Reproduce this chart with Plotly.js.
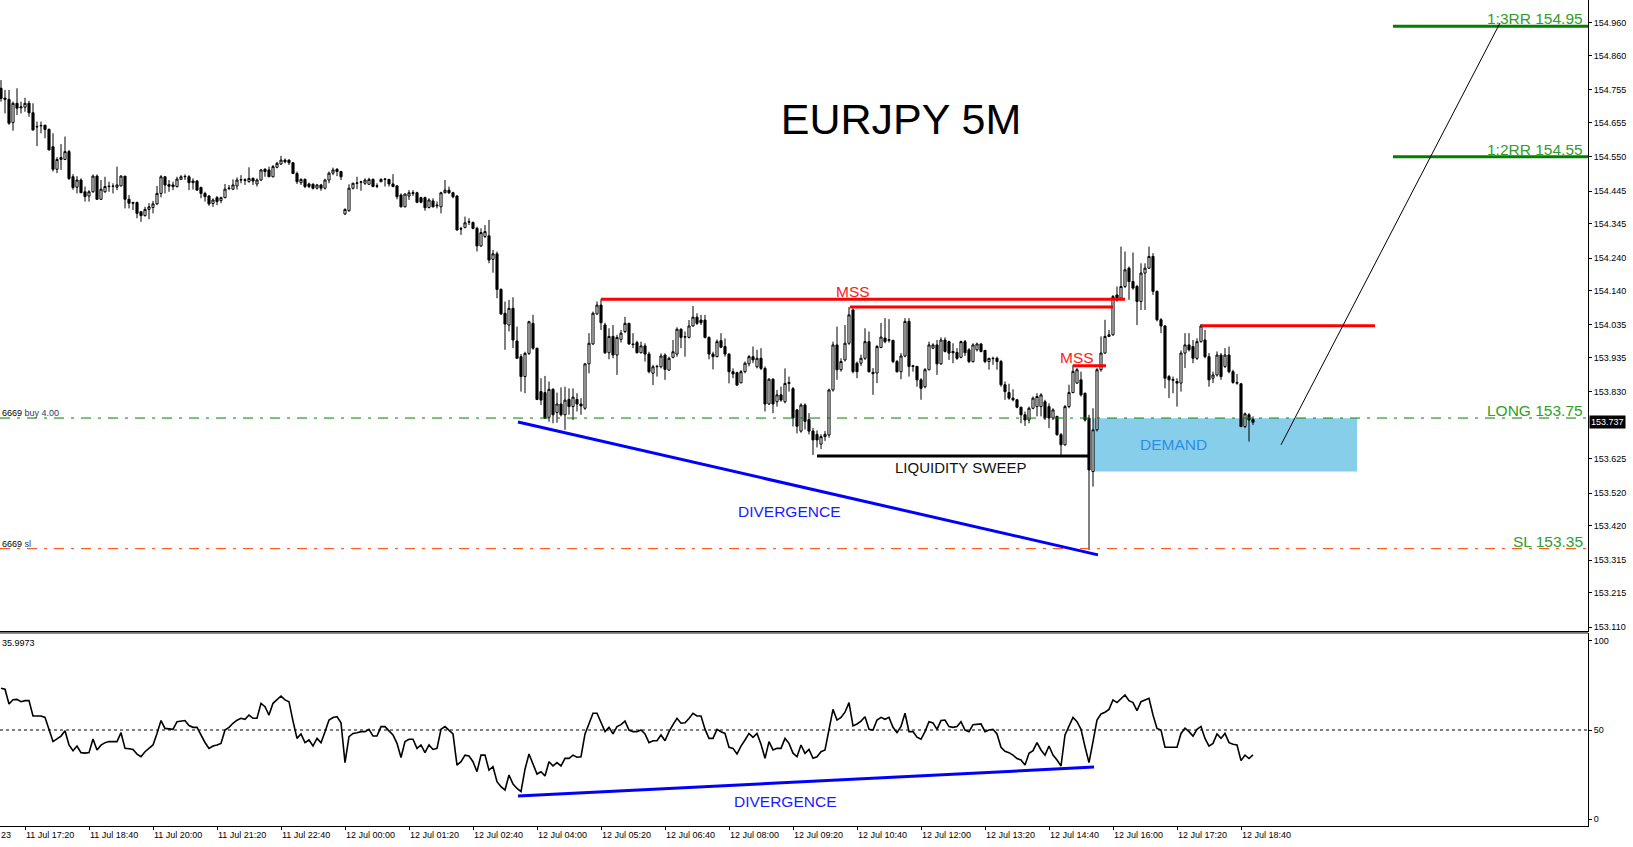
<!DOCTYPE html>
<html><head><meta charset="utf-8">
<script src="https://cdn.plot.ly/plotly-3.0.1.min.js"></script>
<style>html,body{margin:0;padding:0;background:#fff;}#chart{width:1633px;height:847px;}</style>
</head><body><div id="chart"></div>
<script>
// EURJPY 5M candles, 11 Jul 16:50 -> 12 Jul 18:55 (one value per bar)
const openP = [
154.760,154.730,154.726,154.655,154.714,154.700,154.702,154.714,154.685,154.643,
154.645,154.647,154.634,154.581,154.512,154.542,154.542,154.566,154.489,154.457,
154.479,154.443,154.430,154.443,154.491,154.420,154.443,154.459,154.460,154.457,
154.461,154.491,154.420,154.410,154.410,154.382,154.370,154.389,154.395,154.406,
154.438,154.489,154.465,154.459,154.459,154.481,154.489,154.489,154.476,154.476,
154.456,154.438,154.430,154.407,154.425,154.416,154.425,154.453,154.451,154.461,
154.479,154.480,154.474,154.484,154.467,154.479,154.512,154.510,154.489,154.518,
154.528,154.540,154.540,154.532,154.499,154.471,154.481,154.467,154.466,154.454,
154.464,154.454,154.479,154.500,154.512,154.505,154.375,154.385,154.454,154.469,
154.472,154.469,154.466,154.481,154.460,154.474,154.481,154.481,154.467,154.461,
154.433,154.397,154.430,154.438,154.440,154.425,154.425,154.395,154.415,154.400,
154.397,154.440,154.448,154.440,154.430,154.330,154.334,154.350,154.349,154.331,
154.277,154.306,154.308,154.236,154.253,154.144,154.071,154.035,154.086,153.986,
153.938,153.877,153.948,154.040,153.964,153.831,153.828,153.752,153.838,153.767,
153.793,153.760,153.807,153.785,153.807,153.793,153.780,153.916,153.977,154.069,
154.096,154.035,153.950,154.000,153.943,153.991,154.015,154.040,153.977,153.981,
153.950,153.971,153.946,153.887,153.907,153.907,153.943,153.897,153.936,153.946,
154.022,153.998,153.997,154.032,154.059,154.050,154.050,153.997,153.946,153.938,
153.987,153.969,153.946,153.892,153.889,153.858,153.892,153.916,153.938,153.907,
153.933,153.902,153.793,153.869,153.800,153.821,153.800,153.856,153.840,153.775,
153.710,153.790,153.745,153.710,153.700,153.670,153.693,153.698,153.836,153.974,
153.898,153.928,153.979,154.081,153.918,153.918,153.933,153.984,153.890,153.888,
153.966,153.995,153.990,153.988,153.923,153.892,153.940,154.046,153.910,153.908,
153.867,153.846,153.898,153.964,153.974,153.916,153.989,153.984,153.954,153.951,
153.936,153.984,153.959,153.923,153.959,153.977,153.957,153.923,153.933,153.933,
153.923,153.852,153.828,153.811,153.806,153.783,153.760,153.744,153.780,153.785,
153.785,153.800,153.785,153.750,153.755,153.699,153.668,153.785,153.828,153.857,
153.867,153.826,153.750,153.586,153.714,153.898,153.949,154.000,154.005,154.127,
154.117,154.153,154.209,154.168,154.153,154.107,154.194,154.209,154.245,154.138,
154.051,154.032,153.877,153.868,153.862,153.857,153.949,153.974,153.969,153.933,
153.984,153.989,153.938,153.872,153.882,153.943,153.908,153.943,153.892,153.859,
153.855,153.724,153.760,153.746];
const highP = [
154.785,154.755,154.755,154.719,154.760,154.719,154.731,154.722,154.714,154.658,
154.658,154.648,154.637,154.622,154.549,154.589,154.612,154.571,154.497,154.491,
154.484,154.459,154.448,154.496,154.496,154.479,154.489,154.474,154.469,154.520,
154.494,154.491,154.433,154.413,154.413,154.382,154.397,154.408,154.415,154.461,
154.494,154.491,154.479,154.474,154.489,154.494,154.496,154.494,154.484,154.479,
154.459,154.443,154.433,154.423,154.430,154.428,154.467,154.464,154.481,154.487,
154.494,154.484,154.518,154.487,154.484,154.512,154.515,154.520,154.525,154.535,
154.553,154.545,154.542,154.534,154.505,154.484,154.484,154.471,154.469,154.467,
154.467,154.483,154.505,154.517,154.515,154.507,154.392,154.466,154.471,154.489,
154.477,154.484,154.486,154.484,154.469,154.484,154.484,154.481,154.497,154.464,
154.438,154.438,154.448,154.448,154.443,154.428,154.428,154.423,154.423,154.413,
154.443,154.479,154.459,154.443,154.433,154.336,154.367,154.362,154.352,154.336,
154.331,154.341,154.357,154.265,154.260,154.147,154.107,154.112,154.120,154.030,
153.946,153.953,154.048,154.066,153.964,153.872,153.879,153.862,153.841,153.828,
153.844,153.846,153.841,153.841,153.826,153.811,153.918,154.010,154.076,154.107,
154.114,154.042,154.025,154.035,154.005,154.020,154.060,154.042,154.010,153.987,
153.984,153.979,153.953,153.913,153.913,153.948,153.948,153.938,153.989,154.028,
154.025,154.015,154.050,154.093,154.071,154.066,154.066,154.000,153.953,153.991,
154.010,153.994,153.948,153.902,153.892,153.897,153.923,153.943,153.969,153.959,
153.964,153.908,153.872,153.872,153.836,153.846,153.902,153.877,153.845,153.778,
153.795,153.795,153.765,153.720,153.712,153.700,153.710,153.840,153.984,154.030,
153.933,154.035,154.090,154.086,153.923,153.944,154.025,154.015,153.903,153.974,
154.041,154.056,154.053,153.989,153.928,153.949,154.056,154.056,153.913,153.910,
153.872,153.903,153.984,153.979,153.989,153.997,153.997,153.987,153.979,153.964,
153.987,153.989,153.964,153.979,153.981,153.979,153.959,153.928,153.938,153.938,
153.928,153.862,153.855,153.838,153.808,153.785,153.770,153.785,153.816,153.826,
153.826,153.806,153.795,153.780,153.757,153.704,153.790,153.852,153.913,153.903,
153.892,153.828,153.760,153.780,153.903,154.000,154.051,154.020,154.127,154.153,
154.275,154.260,154.214,154.257,154.158,154.224,154.224,154.275,154.255,154.141,
154.056,154.035,153.882,153.877,153.872,153.957,154.010,154.010,153.989,153.994,
154.038,154.020,153.949,153.892,153.954,153.949,153.964,153.969,153.898,153.885,
153.857,153.767,153.765,153.755];
const lowP = [
154.719,154.683,154.648,154.630,154.678,154.683,154.688,154.673,154.632,154.583,
154.622,154.607,154.571,154.505,154.500,154.510,154.540,154.479,154.449,154.438,
154.440,154.413,154.413,154.440,154.418,154.418,154.440,154.443,154.438,154.448,
154.459,154.392,154.392,154.387,154.362,154.351,154.367,154.359,154.377,154.402,
154.426,154.438,154.443,154.448,154.456,154.479,154.479,154.448,154.450,154.448,
154.423,154.413,154.400,154.397,154.402,154.408,154.423,154.448,154.448,154.450,
154.469,154.464,154.471,154.464,154.459,154.476,154.489,154.489,154.487,154.515,
154.525,154.530,154.525,154.499,154.467,154.464,154.454,154.454,154.450,154.450,
154.446,154.450,154.469,154.494,154.491,154.479,154.372,154.382,154.450,154.451,
154.446,154.464,154.464,154.457,154.454,154.472,154.459,154.459,154.457,154.420,
154.395,154.395,154.418,154.430,154.408,154.408,154.385,154.392,154.395,154.392,
154.377,154.438,154.436,154.423,154.324,154.311,154.331,154.341,154.328,154.260,
154.275,154.301,154.224,154.195,154.117,154.066,153.959,154.015,153.964,153.933,
153.831,153.826,153.943,153.959,153.805,153.790,153.749,153.739,153.734,153.736,
153.755,153.714,153.760,153.744,153.770,153.760,153.775,153.887,153.974,154.066,
154.020,153.946,153.930,153.933,153.882,153.981,154.010,153.974,153.964,153.948,
153.948,153.923,153.887,153.851,153.877,153.902,153.867,153.895,153.933,153.938,
153.964,153.938,153.994,154.030,154.035,154.035,153.994,153.930,153.899,153.936,
153.964,153.938,153.856,153.872,153.848,153.856,153.887,153.908,153.918,153.902,
153.897,153.770,153.790,153.765,153.785,153.800,153.795,153.831,153.724,153.703,
153.705,153.715,153.700,153.637,153.660,153.655,153.680,153.690,153.831,153.867,
153.892,153.923,153.974,153.887,153.872,153.910,153.928,153.889,153.821,153.857,
153.964,153.979,153.981,153.918,153.889,153.869,153.936,153.877,153.892,153.846,
153.806,153.841,153.896,153.961,153.882,153.913,153.951,153.928,153.918,153.928,
153.933,153.940,153.918,153.920,153.954,153.951,153.918,153.898,153.913,153.898,
153.846,153.806,153.806,153.801,153.780,153.734,153.726,153.734,153.777,153.755,
153.755,153.744,153.719,153.744,153.696,153.637,153.665,153.780,153.826,153.855,
153.816,153.739,153.346,153.540,153.709,153.892,153.947,153.998,154.002,154.107,
154.112,154.148,154.112,154.143,154.035,154.081,154.081,154.206,154.127,154.046,
154.010,153.841,153.811,153.826,153.785,153.831,153.903,153.954,153.918,153.928,
153.981,153.933,153.846,153.857,153.877,153.867,153.903,153.887,153.855,153.852,
153.722,153.719,153.678,153.729];
const closeP = [
154.729,154.726,154.653,154.714,154.699,154.703,154.714,154.685,154.632,154.642,
154.646,154.634,154.571,154.512,154.542,154.548,154.566,154.484,154.456,154.479,
154.440,154.428,154.443,154.491,154.420,154.451,154.459,154.460,154.460,154.464,
154.491,154.420,154.408,154.408,154.377,154.370,154.389,154.397,154.406,154.438,
154.489,154.464,154.460,154.464,154.482,154.489,154.490,154.471,154.471,154.448,
154.438,154.428,154.406,154.418,154.413,154.425,154.451,154.454,154.464,154.479,
154.480,154.478,154.484,154.476,154.479,154.510,154.505,154.489,154.520,154.530,
154.540,154.535,154.532,154.499,154.474,154.481,154.459,154.459,154.454,154.464,
154.454,154.479,154.500,154.510,154.505,154.489,154.389,154.454,154.469,154.470,
154.473,154.479,154.481,154.459,154.461,154.481,154.482,154.467,154.459,154.428,
154.397,154.436,154.440,154.440,154.411,154.411,154.394,154.418,154.397,154.402,
154.440,154.448,154.440,154.428,154.326,154.329,154.348,154.351,154.331,154.277,
154.318,154.321,154.234,154.253,154.144,154.069,154.038,154.086,153.989,153.933,
153.877,153.948,154.045,153.964,153.807,153.805,153.749,153.838,153.760,153.793,
153.760,153.805,153.785,153.814,153.793,153.787,153.916,153.979,154.071,154.096,
154.042,153.950,154.000,153.943,153.997,154.010,154.040,153.977,153.975,153.950,
153.971,153.946,153.892,153.907,153.908,153.940,153.899,153.933,153.953,154.022,
153.997,153.999,154.032,154.059,154.040,154.042,153.997,153.946,153.938,153.984,
153.967,153.946,153.892,153.885,153.851,153.892,153.918,153.938,153.928,153.933,
153.902,153.793,153.869,153.793,153.821,153.805,153.856,153.859,153.750,153.725,
153.790,153.740,153.710,153.683,153.683,153.693,153.700,153.836,153.974,153.898,
153.923,153.979,154.066,153.892,153.892,153.933,153.984,153.892,153.886,153.969,
153.998,153.984,153.988,153.923,153.892,153.940,154.046,153.908,153.908,153.867,
153.841,153.898,153.974,153.974,153.916,153.989,153.954,153.949,153.950,153.933,
153.984,153.950,153.923,153.974,153.977,153.954,153.923,153.933,153.932,153.923,
153.852,153.831,153.811,153.806,153.783,153.760,153.744,153.780,153.811,153.816,
153.821,153.750,153.750,153.775,153.699,153.668,153.785,153.828,153.893,153.898,
153.821,153.744,153.591,153.714,153.898,153.949,154.000,154.005,154.122,154.112,
154.153,154.204,154.168,154.148,154.107,154.194,154.209,154.245,154.138,154.051,
154.032,153.872,153.867,153.866,153.857,153.949,153.974,153.959,153.933,153.984,
154.032,153.938,153.867,153.882,153.943,153.877,153.943,153.892,153.859,153.857,
153.724,153.763,153.744,153.737];
// RSI values, one per bar
const rsiValues = [
73.4,72.9,64.6,67.0,67.2,65.9,66.5,66.5,57.9,57.9,
57.9,57.1,50.0,43.5,45.0,46.6,49.6,41.6,38.4,41.0,
37.3,37.0,37.3,44.9,38.8,41.5,42.9,43.5,43.5,43.5,
48.5,39.7,39.5,39.1,36.5,35.0,37.8,39.5,41.6,48.0,
55.3,50.9,50.5,50.4,54.7,55.0,55.3,52.5,51.5,51.5,
47.2,43.0,39.7,41.0,41.6,42.5,50.0,51.5,53.8,55.5,
56.6,56.0,58.4,56.6,56.6,65.0,63.1,58.4,65.0,67.0,
69.1,66.9,65.9,55.0,45.3,47.8,42.9,44.4,41.0,45.3,
42.9,49.0,55.6,57.0,57.5,54.1,31.7,46.3,48.1,48.5,
49.1,49.1,50.4,46.6,46.6,51.9,51.9,49.5,47.2,42.5,
34.6,43.5,44.8,44.8,39.7,41.6,37.3,41.6,39.1,39.7,
50.4,51.9,50.0,47.8,30.3,32.2,35.9,35.4,32.2,26.6,
35.9,35.9,27.5,29.4,21.0,18.2,16.3,24.7,19.7,17.2,
15.4,28.0,36.5,31.0,25.3,26.6,24.2,32.2,29.8,31.7,
29.8,34.1,34.1,35.9,34.7,35.0,47.8,53.5,59.4,59.4,
54.0,49.1,51.5,47.8,51.9,53.0,55.0,50.0,49.1,49.1,
50.0,47.8,42.9,44.0,44.0,47.2,44.0,49.1,53.0,56.6,
53.8,54.1,56.5,59.4,57.9,57.9,50.5,45.3,45.3,50.4,
49.0,48.1,40.3,39.7,36.5,41.0,44.4,48.1,45.9,48.1,
42.0,34.1,43.5,38.8,39.7,39.7,45.3,42.5,37.0,35.0,
41.6,36.9,39.1,34.1,35.0,37.8,38.8,50.0,61.6,55.6,
57.1,60.0,65.4,52.3,53.4,55.0,57.5,50.4,50.0,55.6,
57.1,56.0,57.1,51.5,48.5,52.0,59.4,49.1,49.1,46.0,
44.8,49.1,54.7,54.0,50.4,55.3,55.6,51.9,51.5,52.0,
54.7,50.0,49.1,53.0,53.4,53.4,49.1,50.0,50.4,47.8,
40.3,38.0,37.3,35.9,34.0,33.2,30.3,36.9,38.4,42.9,
38.8,35.9,41.0,35.9,33.2,29.8,47.2,51.9,57.1,54.7,
50.4,40.6,31.7,43.5,55.6,59.0,60.0,61.6,66.9,65.4,
67.8,69.7,66.5,65.4,60.9,65.9,66.9,67.8,58.4,50.9,
50.0,40.3,40.3,40.3,40.3,48.1,51.0,49.1,46.6,50.4,
52.0,45.3,41.0,42.5,47.8,45.3,48.1,42.9,42.0,41.6,
32.8,35.9,34.0,36.0];
const timeTickBars = [6,22,38,54,70,86,102,118,134,150,166,182,198,214,230,246,262,278,294,310];
const timeTickLabels = ['11 Jul 17:20','11 Jul 18:40','11 Jul 20:00','11 Jul 21:20','11 Jul 22:40',
 '12 Jul 00:00','12 Jul 01:20','12 Jul 02:40','12 Jul 04:00','12 Jul 05:20','12 Jul 06:40',
 '12 Jul 08:00','12 Jul 09:20','12 Jul 10:40','12 Jul 12:00','12 Jul 13:20','12 Jul 14:40',
 '12 Jul 16:00','12 Jul 17:20','12 Jul 18:40'];
const priceTickVals = [153.110,153.215,153.315,153.420,153.520,153.625,153.830,153.935,154.035,
 154.140,154.240,154.345,154.445,154.550,154.655,154.755,154.860,154.960];
const priceTickLabels = ['153.110','153.215','153.315','153.420','153.520','153.625','153.830','153.935','154.035',
 '154.140','154.240','154.345','154.445','154.550','154.655','154.755','154.860','154.960'];
const rsiTickVals = [0, 50, 100];
const rsiTickLabels = ['0', '50', '100'];
const levelPrices = [154.95, 154.55, 153.75, 153.35];
const levelLabels = ['1:3RR 154.95', '1:2RR 154.55', 'LONG 153.75', 'SL 153.35'];
const currentPrice = 153.737;
const currentRsiText = '35.9973';
const firstDateTail = '23';

const barIndex = openP.map((_, i) => i);
const XR = [-0.25, 396.75];
const GREEN_TXT = '#2f9e2a';
const FONT = 'Liberation Sans, Arial, sans-serif';

const traces = [
 {type:'candlestick', x:barIndex, open:openP, high:highP, low:lowP, close:closeP,
  xaxis:'x', yaxis:'y', whiskerwidth:0, hoverinfo:'skip', showlegend:false,
  increasing:{line:{color:'#000', width:1}, fillcolor:'#ffffff'},
  decreasing:{line:{color:'#000', width:1}, fillcolor:'#000000'}},
 {type:'scatter', mode:'lines', x:barIndex, y:rsiValues, xaxis:'x2', yaxis:'y2',
  line:{color:'#000', width:1.6}, hoverinfo:'skip', showlegend:false}
];

const shapes = [
 {type:'line', xref:'paper', yref:'paper', x0:0, x1:1, y0:0.2337, y1:0.2337, line:{color:'#000', width:1}},
 // RR targets
 {type:'line', xref:'x', yref:'y', x0:348, x1:XR[1], y0:levelPrices[0], y1:levelPrices[0], line:{color:'#008000', width:3}},
 {type:'line', xref:'x', yref:'y', x0:348, x1:XR[1], y0:levelPrices[1], y1:levelPrices[1], line:{color:'#008000', width:3}},
 // entry and stop
 {type:'line', xref:'x', yref:'y', x0:XR[0], x1:XR[1], y0:levelPrices[2], y1:levelPrices[2], line:{color:'#008000', width:1, dash:'10px,7px,3px,7px'}},
 {type:'line', xref:'x', yref:'y', x0:XR[0], x1:XR[1], y0:levelPrices[3], y1:levelPrices[3], line:{color:'#ff4500', width:1, dash:'10px,7px,3px,7px'}},
 // demand zone
 {type:'rect', xref:'x', yref:'y', x0:273, x1:339, y0:153.586, y1:153.749, fillcolor:'#87ceeb', line:{width:0}, layer:'below'},
 // MSS lines
 {type:'line', xref:'x', yref:'y', x0:150, x1:281, y0:154.114, y1:154.114, line:{color:'#ff0000', width:3}},
 {type:'line', xref:'x', yref:'y', x0:212.25, x1:278, y0:154.090, y1:154.090, line:{color:'#ff0000', width:3}},
 {type:'line', xref:'x', yref:'y', x0:268, x1:276.25, y0:153.910, y1:153.910, line:{color:'#ff0000', width:3}},
 {type:'line', xref:'x', yref:'y', x0:300, x1:343.5, y0:154.033, y1:154.033, line:{color:'#ff0000', width:3}},
 // liquidity sweep
 {type:'line', xref:'x', yref:'y', x0:204, x1:271.75, y0:153.634, y1:153.634, line:{color:'#000', width:3}},
 // price divergence
 {type:'line', xref:'x', yref:'y', x0:129.25, x1:274.25, y0:153.738, y1:153.331, line:{color:'#0000ff', width:3}},
 // projection
 {type:'line', xref:'x', yref:'y', x0:320, x1:374.75, y0:153.668, y1:154.960, line:{color:'#000', width:1}},
 // RSI 50 and divergence
 {type:'line', xref:'x2', yref:'y2', x0:XR[0], x1:XR[1], y0:50, y1:50, line:{color:'#000', width:1, dash:'3px,3px'}},
 {type:'line', xref:'x2', yref:'y2', x0:129.25, x1:273.25, y0:12.9, y1:29.2, line:{color:'#0000ff', width:3}}
];

const ann = [];
function txt(o){ ann.push(Object.assign({showarrow:false, font:{family:FONT, size:15.5, color:'#000'}}, o)); }
txt({xref:'x', yref:'y', x:213.1, y:154.139, text:'MSS', font:{family:FONT, size:15.5, color:'#ff1a1a'}});
txt({xref:'x', yref:'y', x:269, y:153.936, text:'MSS', font:{family:FONT, size:15.5, color:'#ff1a1a'}});
txt({xref:'x', yref:'y', x:239.75, y:153.600, text:'LIQUIDITY SWEEP', font:{family:FONT, size:15, color:'#111'}});
txt({xref:'x', yref:'y', x:197, y:153.465, text:'DIVERGENCE', font:{family:FONT, size:15.5, color:'#1a1aff'}});
txt({xref:'x', yref:'y', x:293, y:153.668, text:'DEMAND', font:{family:FONT, size:15.5, color:'#2b8fe8'}});
txt({xref:'x2', yref:'y2', x:196, y:10.1, text:'DIVERGENCE', font:{family:FONT, size:15.5, color:'#1a1aff'}});
levelLabels.forEach((t, k) => txt({xref:'paper', yref:'y', x:1, xanchor:'right', xshift:-3, y:levelPrices[k], yanchor:'bottom', yshift:-3, text:t, font:{family:FONT, size:15.5, color:GREEN_TXT}}));
txt({xref:'paper', yref:'y', x:0, xanchor:'left', y:levelPrices[2], yanchor:'bottom', yshift:-2, text:'6669 <span style="color:#1f3a6e">buy 4.00</span>', font:{family:FONT, size:9, color:'#000'}});
txt({xref:'paper', yref:'y', x:0, xanchor:'left', y:levelPrices[3], yanchor:'bottom', yshift:-2, text:'6669 <span style="color:#1f3a6e">sl</span>', font:{family:FONT, size:9, color:'#000'}});
txt({xref:'paper', yref:'paper', x:0, xanchor:'left', y:0.2215, yanchor:'middle', text:currentRsiText, font:{family:FONT, size:9, color:'#000'}});
txt({xref:'paper', yref:'y', x:1, xanchor:'left', xshift:1, y:currentPrice, yanchor:'middle', text:String(currentPrice), bgcolor:'#000', borderpad:1, font:{family:FONT, size:9, color:'#fff'}});
txt({xref:'paper', yref:'paper', x:0, xanchor:'left', xshift:-1, y:-0.011, yanchor:'middle', text:firstDateTail, font:{family:FONT, size:9, color:'#000'}});

const layout = {
 width:1633, height:847, margin:{l:0, r:45, t:0, b:21, pad:0},
 paper_bgcolor:'#fff', plot_bgcolor:'#fff', showlegend:false, boxgap:0.25,
 font:{family:FONT, color:'#000'},
 title:{text:'EURJPY 5M', x:901/1633, y:1-119/847, xref:'container', yref:'container', xanchor:'center', yanchor:'middle', font:{family:FONT, size:43, color:'#000'}},
 xaxis:{domain:[0,1], anchor:'y', range:XR, showgrid:false, zeroline:false, showticklabels:false, ticks:'', showline:true, linecolor:'#000', linewidth:1, rangeslider:{visible:false}, fixedrange:true},
 yaxis:{domain:[0.2361,1], anchor:'x', side:'right', range:[153.0978,155.0304], tickmode:'array', tickvals:priceTickVals, ticktext:priceTickLabels, ticks:'outside', ticklen:3, tickcolor:'#000', showline:true, linecolor:'#000', linewidth:1, showgrid:false, zeroline:false, tickfont:{family:FONT, size:9, color:'#000'}, fixedrange:true},
 xaxis2:{domain:[0,1], anchor:'y2', range:XR, tickmode:'array', tickvals:timeTickBars, ticktext:timeTickLabels, ticks:'outside', ticklen:3, tickcolor:'#000', ticklabelposition:'outside right', showline:true, linecolor:'#000', linewidth:1, showgrid:false, zeroline:false, tickfont:{family:FONT, size:9, color:'#000'}, fixedrange:true},
 yaxis2:{domain:[0,0.2337], anchor:'x2', side:'right', range:[-3.9,104.5], tickmode:'array', tickvals:rsiTickVals, ticktext:rsiTickLabels, ticks:'outside', ticklen:3, tickcolor:'#000', showline:true, linecolor:'#000', linewidth:1, showgrid:false, zeroline:false, tickfont:{family:FONT, size:9, color:'#000'}, fixedrange:true},
 shapes:shapes, annotations:ann
};
Plotly.newPlot('chart', traces, layout, {displayModeBar:false, staticPlot:true});
</script></body></html>
